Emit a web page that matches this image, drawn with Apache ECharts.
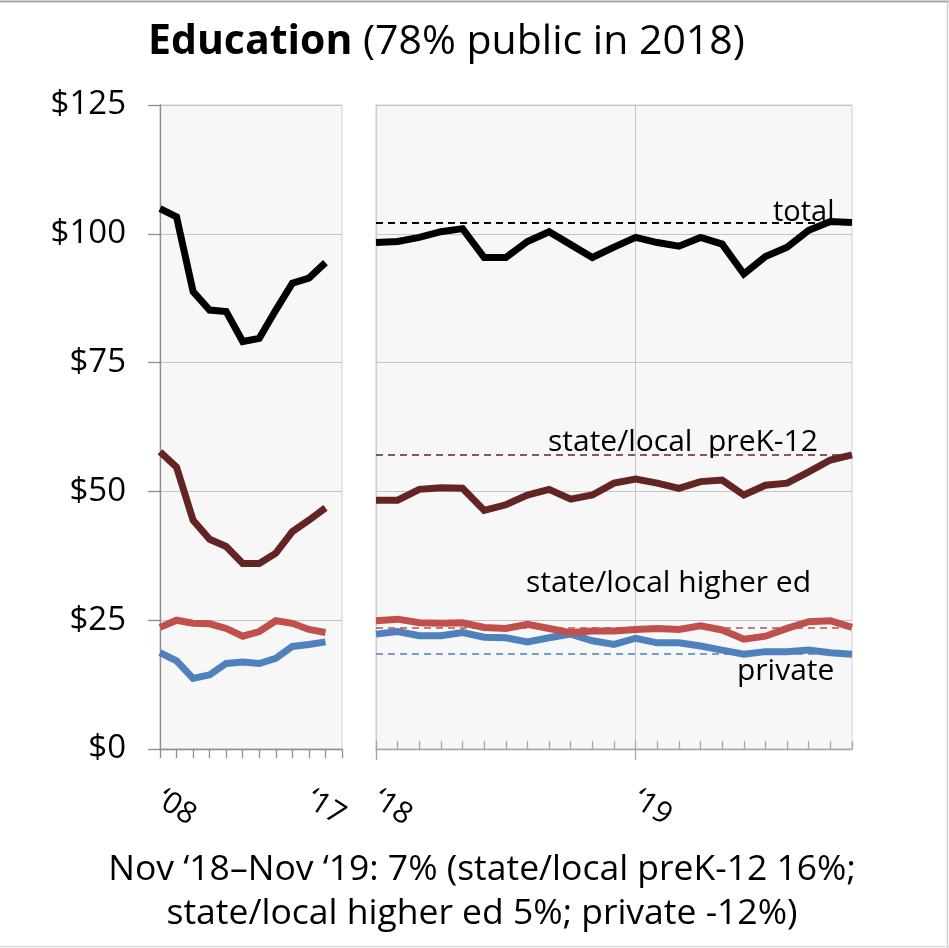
<!DOCTYPE html>
<html><head><meta charset="utf-8">
<script src="https://cdn.jsdelivr.net/npm/echarts@6/dist/echarts.min.js"></script>
<style>html,body{margin:0;padding:0;background:#fff}#c{width:949px;height:948px}</style>
</head><body><div id="c"></div>
<script>
const FONT = '"Open Sans", "Noto Sans", sans-serif';

// Left panel: annual points
const leftYears = ['‘08','‘09','‘10','‘11','‘12','‘13','‘14','‘15','‘16','‘17','‘18','‘19'];
const leftTotal   = [104.9, 103.3, 88.8, 85.2, 84.9, 79.1, 79.7, 85.2, 90.4, 91.4, 94.4];
const leftPreK    = [57.7, 54.7, 44.4, 40.7, 39.3, 36.0, 36.0, 38.0, 42.2, 44.4, 46.8];
const leftHigher  = [23.6, 25.0, 24.4, 24.3, 23.4, 21.9, 22.8, 24.9, 24.4, 23.2, 22.6];
const leftPrivate = [18.7, 17.1, 13.7, 14.4, 16.6, 16.9, 16.6, 17.6, 19.9, 20.3, 20.8];

// Right panel: monthly Jan 2018 - Nov 2019
const rightMonths = ['Jan ‘18','Feb ‘18','Mar ‘18','Apr ‘18','May ‘18','Jun ‘18','Jul ‘18','Aug ‘18','Sep ‘18','Oct ‘18','Nov ‘18','Dec ‘18',
  'Jan ‘19','Feb ‘19','Mar ‘19','Apr ‘19','May ‘19','Jun ‘19','Jul ‘19','Aug ‘19','Sep ‘19','Oct ‘19','Nov ‘19'];
const rightTotal   = [98.3, 98.5, 99.3, 100.4, 101.0, 95.4, 95.4, 98.5, 100.4, 97.9, 95.4, 97.4, 99.3, 98.3, 97.6, 99.3, 98.0, 92.2, 95.6, 97.4, 100.7, 102.4, 102.2];
const rightPreK    = [48.3, 48.3, 50.4, 50.7, 50.6, 46.3, 47.4, 49.3, 50.4, 48.5, 49.3, 51.6, 52.4, 51.6, 50.6, 51.9, 52.2, 49.3, 51.2, 51.6, 53.8, 56.1, 57.1];
const rightHigher  = [24.9, 25.2, 24.5, 24.4, 24.5, 23.6, 23.4, 24.2, 23.4, 22.6, 22.9, 22.9, 23.2, 23.4, 23.2, 23.9, 23.1, 21.3, 21.9, 23.4, 24.7, 24.9, 23.6];
const rightPrivate = [22.3, 22.8, 22.0, 22.0, 22.6, 21.7, 21.6, 20.8, 21.6, 22.3, 21.0, 20.3, 21.5, 20.6, 20.6, 20.0, 19.2, 18.4, 18.9, 18.9, 19.2, 18.7, 18.4];

const yTicks = {min: 0, max: 125, interval: 25};

const C_TOTAL = '#000000', C_PREK = '#632523', C_HIGH = '#c0504d', C_PRIV = '#4f81bd';
const LW = 7;
const last = a => a[a.length - 1];

function lineSeries(name, data, color, xi, yi, dashed) {
  const s = {
    name, type: 'line', data, xAxisIndex: xi, yAxisIndex: yi,
    symbol: 'none', smooth: false, silent: true,
    lineStyle: {color, width: LW, cap: 'butt', join: 'miter'},
    z: 3
  };
  if (dashed) {
    s.markLine = {
      symbol: 'none', silent: true, animation: false,
      label: {show: false},
      lineStyle: {color, width: color === C_TOTAL ? 2.2 : 1.7, type: [7, 5]},
      data: [{yAxis: last(data)}]
    };
  }
  return s;
}

const chart = echarts.init(document.getElementById('c'), null, {renderer: 'canvas'});
const gridCommon = {show: true, backgroundColor: '#f7f7f7', borderColor: '#d0d0d0', borderWidth: 1, top: 105, bottom: 199};
const tickLabelStyle = {fontSize: 30, color: '#000', fontFamily: FONT, rotate: -33, margin: 48};
const txt = (s, x, y, size, align) => ({type: 'text', x, y, z: 10, silent: true,
  style: {text: s, fontSize: size, fontFamily: FONT, fill: '#000', textAlign: align, textVerticalAlign: 'middle', align, verticalAlign: 'middle'}});

chart.setOption({
  animation: false,
  title: {
    text: '{b|Education} (78% public in 2018)',
    left: 143, top: 17,
    textStyle: {fontSize: 41, fontWeight: 'normal', fontFamily: FONT, color: '#000',
      rich: {b: {fontSize: 41, fontWeight: 'bold', fontFamily: FONT, color: '#000'}}}
  },
  grid: [
    Object.assign({left: 160, right: 607}, gridCommon),
    Object.assign({left: 376, right: 97}, gridCommon)
  ],
  xAxis: [
    {type: 'category', gridIndex: 0, data: leftYears, boundaryGap: false,
     axisLine: {lineStyle: {color: '#8c8c8c', width: 1.3}},
     axisTick: {show: true, interval: 0, length: 9, lineStyle: {color: '#8c8c8c', width: 1.3}},
     axisLabel: Object.assign({interval: (i) => i === 0 || i === 9}, tickLabelStyle),
     splitLine: {show: false}},
    {type: 'category', gridIndex: 1, data: rightMonths, boundaryGap: false,
     axisLine: {lineStyle: {color: '#a6a6a6', width: 1.3}},
     axisTick: {show: true, inside: true, interval: 0, length: 8, lineStyle: {color: '#a6a6a6', width: 1.3}},
     axisLabel: {show: false},
     splitLine: {show: true, interval: (i) => i === 12, lineStyle: {color: '#c4c4c4', width: 1}}},
    {type: 'category', gridIndex: 1, data: rightMonths, boundaryGap: false, position: 'bottom',
     axisLine: {show: false},
     axisTick: {show: true, interval: (i) => i === 0 || i === 12, length: 11, lineStyle: {color: '#a6a6a6', width: 1.3}},
     axisLabel: Object.assign({interval: (i) => i === 0 || i === 12, formatter: v => v.slice(4)}, tickLabelStyle),
     splitLine: {show: false}}
  ],
  yAxis: [
    Object.assign({type: 'value', gridIndex: 0,
     axisLine: {show: true, lineStyle: {color: '#8c8c8c', width: 1.3}},
     axisTick: {show: true, length: 12, lineStyle: {color: '#8c8c8c', width: 1.3}},
     axisLabel: {formatter: v => '$' + v, fontSize: 33, color: '#000', fontFamily: FONT, margin: 34},
     splitLine: {show: true, lineStyle: {color: '#c4c4c4', width: 1}}}, yTicks),
    Object.assign({type: 'value', gridIndex: 1,
     axisLine: {show: true, lineStyle: {color: '#cfcfcf', width: 1.3}},
     axisTick: {show: false}, axisLabel: {show: false},
     splitLine: {show: true, lineStyle: {color: '#c4c4c4', width: 1}}}, yTicks)
  ],
  series: [
    lineSeries('private', leftPrivate, C_PRIV, 0, 0, false),
    lineSeries('state/local higher ed', leftHigher, C_HIGH, 0, 0, false),
    lineSeries('state/local preK-12', leftPreK, C_PREK, 0, 0, false),
    lineSeries('total', leftTotal, C_TOTAL, 0, 0, false),
    lineSeries('private', rightPrivate, C_PRIV, 1, 1, true),
    lineSeries('state/local higher ed', rightHigher, C_HIGH, 1, 1, true),
    lineSeries('state/local preK-12', rightPreK, C_PREK, 1, 1, true),
    lineSeries('total', rightTotal, C_TOTAL, 1, 1, true)
  ],
  graphic: [
    {type: 'line', shape: {x1: 0, y1: 1.5, x2: 949, y2: 1.5}, style: {stroke: '#a6a6a6', lineWidth: 2}, silent: true},
    {type: 'line', shape: {x1: 947.5, y1: 0, x2: 947.5, y2: 948}, style: {stroke: '#d0d0d0', lineWidth: 1.5}, silent: true},
    {type: 'line', shape: {x1: 0, y1: 946.5, x2: 949, y2: 946.5}, style: {stroke: '#dcdcdc', lineWidth: 1.5}, silent: true},
    txt('total', 773, 213, 29, 'left'),
    txt('state/local  preK-12', 548, 442, 30, 'left'),
    txt('state/local higher ed', 526, 583, 30, 'left'),
    txt('private', 737, 671, 30, 'left'),
    txt('Nov ‘18–Nov ‘19: 7% (state/local preK-12 16%;', 482, 870, 35.5, 'center'),
    txt('state/local higher ed 5%; private -12%)', 482, 914, 35.5, 'center')
  ]
});
</script></body></html>
